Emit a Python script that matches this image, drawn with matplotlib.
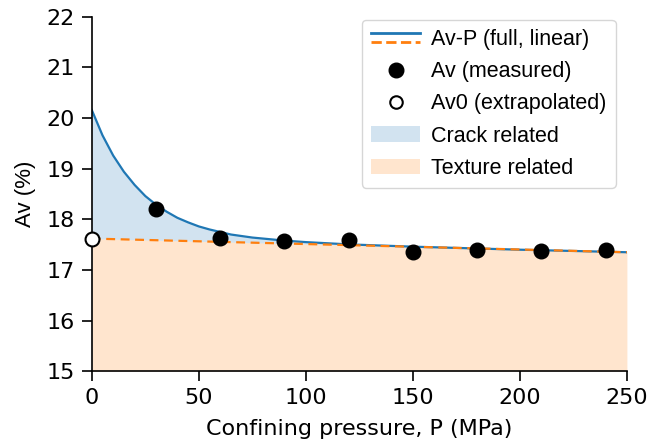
import matplotlib
matplotlib.use('Agg')
import matplotlib.pyplot as plt
from matplotlib.lines import Line2D
from matplotlib.patches import Patch
import numpy as np

# measured points
p_meas = [30, 60, 90, 120, 150, 180, 210, 240]
av_meas = [18.20, 17.63, 17.57, 17.60, 17.35, 17.39, 17.38, 17.40]

# extrapolated Av0
p_av0 = [0]
av0 = [17.62]

# full fit curve
p_curve = [0, 5, 10, 15, 20, 25, 30, 35, 40, 45, 50, 55, 60, 65, 70, 75, 80, 90, 100, 120, 150, 200, 250]
av_curve = [20.16, 19.66, 19.26, 18.94, 18.68, 18.46, 18.29, 18.15, 18.03, 17.94, 17.86, 17.80,
            17.75, 17.70, 17.67, 17.64, 17.62, 17.58, 17.55, 17.505, 17.46, 17.40, 17.35]

# linear part
p_lin = [0, 250]
av_lin = [17.62, 17.35]


class TwoLineHandler:
    def legend_artist(self, legend, orig_handle, fontsize, handlebox):
        x0, y0 = handlebox.xdescent, handlebox.ydescent
        w, h = handlebox.width, handlebox.height
        l1 = Line2D([x0, x0 + w], [y0 + h * 0.8] * 2, color='C0', lw=2)
        l2 = Line2D([x0, x0 + w], [y0 + h * 0.2] * 2, color='C1', lw=2, ls='--')
        handlebox.add_artist(l2)
        handlebox.add_artist(l1)
        return l1


fig = plt.figure(figsize=(6.51, 4.44), dpi=100)
ax = fig.add_axes([0.141, 0.164, 0.822, 0.798])

lin_on_curve = np.interp(p_curve, p_lin, av_lin)
ax.fill_between(p_lin, 15, av_lin, color='C1', alpha=0.2, lw=0)
ax.fill_between(p_curve, lin_on_curve, av_curve, color='C0', alpha=0.2, lw=0)

ax.plot(p_curve, av_curve, color='C0', lw=1.6)
ax.plot(p_lin, av_lin, color='C1', lw=1.6, ls='--', dashes=(4, 2.5))

ax.plot(p_meas, av_meas, 'o', color='black', ms=10.5, clip_on=False, zorder=5)
ax.plot(p_av0, av0, 'o', mfc='white', mec='black', mew=1.5, ms=10, clip_on=False, zorder=5)

ax.set_xlim(0, 250)
ax.set_ylim(15, 22)
ax.set_xticks([0, 50, 100, 150, 200, 250])
ax.set_yticks(range(15, 23))
ax.tick_params(labelsize=16, length=7, width=1.2, pad=5)
for s in ['top', 'right']:
    ax.spines[s].set_visible(False)
for s in ['left', 'bottom']:
    ax.spines[s].set_linewidth(1.2)

ax.set_xlabel('Confining pressure, P (MPa)', fontsize=16, labelpad=8)
ax.set_ylabel('Av (%)', fontsize=16, family='Liberation Sans', labelpad=8)

handles = [object(),
           Line2D([], [], ls='none', marker='o', color='black', ms=10.5),
           Line2D([], [], ls='none', marker='o', mfc='white', mec='black', mew=1.5, ms=9),
           Patch(facecolor='C0', alpha=0.2),
           Patch(facecolor='C1', alpha=0.2)]
labels = ['Av-P (full, linear)', 'Av (measured)', 'Av0 (extrapolated)', 'Crack related', 'Texture related']
leg = ax.legend(handles, labels, loc='upper right', bbox_to_anchor=(0.979, 0.9915),
                borderaxespad=0, handler_map={object: TwoLineHandler()},
                prop={'family': 'Liberation Sans', 'size': 15.5},
                handlelength=2.3, handletextpad=0.5, labelspacing=0.52, borderpad=0.42)

fig.savefig('out.png', dpi=100)
